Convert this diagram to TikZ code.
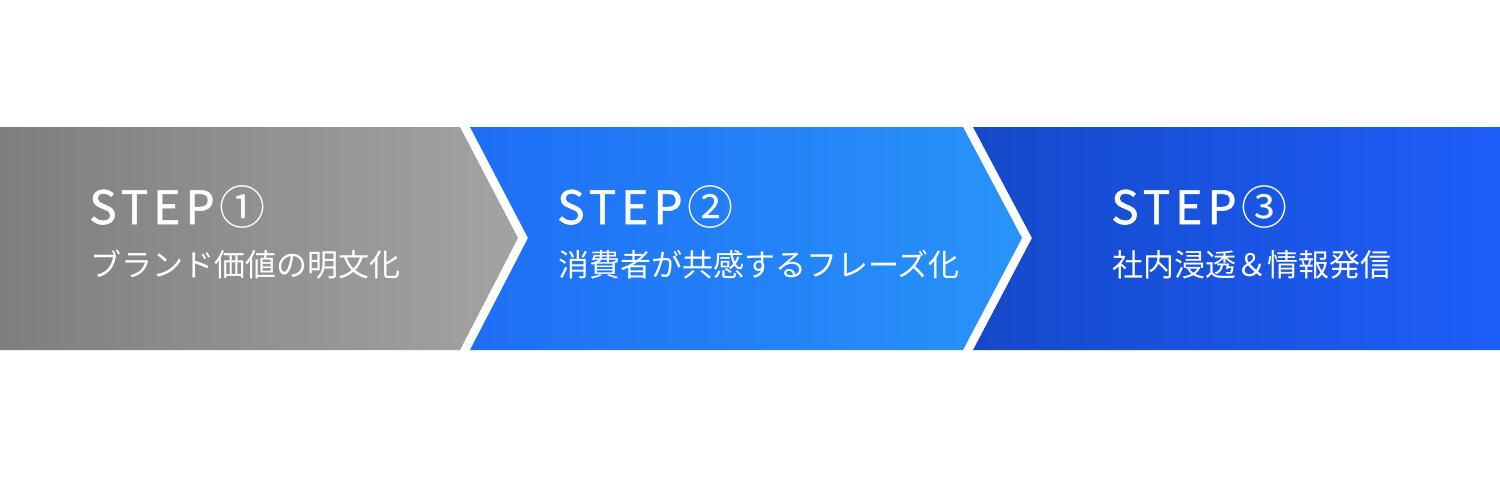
\documentclass[tikz,border=0pt]{standalone}
\usepackage{fontspec}
\newfontfamily\jpfont{Noto Sans CJK JP}
\newfontfamily\stepfont[LetterSpace=11,FakeBold=1.2]{Noto Sans CJK JP}
\newfontfamily\circfont{Noto Sans CJK JP}
\definecolor{grayL}{HTML}{7E7E7E}
\definecolor{grayR}{HTML}{A2A4A2}
\definecolor{blueL}{HTML}{1E6EF5}
\definecolor{blueR}{HTML}{2894F9}
\definecolor{navyL}{HTML}{1549C9}
\definecolor{navyR}{HTML}{1E5EF9}
\tikzset{
  steptitle/.style={anchor=base west, inner sep=0pt, text=white, font=\fontsize{46}{46}\stepfont},
  stepsub/.style={anchor=base west, inner sep=0pt, text=white, font=\fontsize{31}{31}\jpfont},
}
\newcommand{\stepnum}[1]{STEP\hspace{5pt}{\circfont #1}}
\begin{document}
\begin{tikzpicture}[x=1pt,y=-1pt]
\useasboundingbox[fill=white] (0,0) rectangle (1500,477);
% chevrons
\shade[left color=grayL, right color=grayR]
  (0,127) -- (460,127) -- (518,238) -- (460,350) -- (0,350) -- cycle;
\shade[left color=blueL, right color=blueR]
  (470,127) -- (963,127) -- (1022,238) -- (963,350) -- (470,350) -- (528,238) -- cycle;
\shade[left color=navyL, right color=navyR]
  (973,127) -- (1500,127) -- (1500,350) -- (973,350) -- (1032,238) -- cycle;
% texts
\node[steptitle] (t1) at (89,224) {\stepnum{①}};
\node[stepsub] (s1) at (90,276) {ブランド価値の明文化};
\node[steptitle] (t2) at (557,224) {\stepnum{②}};
\node[stepsub] (s2) at (558,276) {消費者が共感するフレーズ化};
\node[steptitle] (t3) at (1111,224) {\stepnum{③}};
\node[stepsub] (s3) at (1112,276) {社内浸透＆情報発信};
\end{tikzpicture}
\end{document}
